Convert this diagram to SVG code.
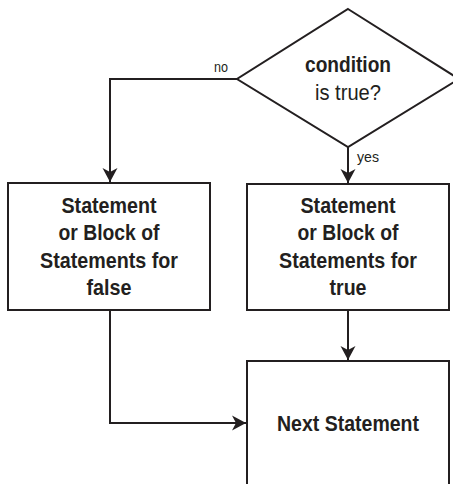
<svg xmlns="http://www.w3.org/2000/svg" width="453" height="484" viewBox="0 0 453 484">
<defs>
<marker id="arr" markerUnits="userSpaceOnUse" markerWidth="16" markerHeight="18" viewBox="-15 -8 16 16" refX="0" refY="0" orient="auto">
<path d="M0,0 L-14,-7.5 L-10,0 L-14,7.5 Z" fill="#231f20"/>
</marker>
<style>
.shape{fill:#fff;stroke:#231f20;stroke-width:2}
.line{fill:none;stroke:#231f20;stroke-width:2}
.b{font-family:"Liberation Sans",Arial,sans-serif;font-weight:bold;font-size:22px;fill:#231f20;text-anchor:middle}
.r{font-family:"Liberation Sans",Arial,sans-serif;font-size:22px;fill:#231f20;text-anchor:middle}
.s{font-family:"Liberation Sans",Arial,sans-serif;font-size:15px;fill:#231f20}
</style>
</defs>
<rect width="453" height="484" fill="#fff"/>
<g id="connectors">
<path class="line" d="M237,79 H110 V182" marker-end="url(#arr)"/>
<path class="line" d="M348,147 V183" marker-end="url(#arr)"/>
<path class="line" d="M348,310 V360" marker-end="url(#arr)"/>
<path class="line" d="M110,310 V423 H246" marker-end="url(#arr)"/>
<text class="s" x="214" y="72" textLength="14" lengthAdjust="spacingAndGlyphs">no</text>
<text class="s" x="357" y="162" textLength="22" lengthAdjust="spacingAndGlyphs">yes</text>
</g>
<g id="condition">
<polygon class="shape" points="348,9 459,79 348,147 237,79"/>
<text class="b" x="348" y="72" textLength="86" lengthAdjust="spacingAndGlyphs">condition</text>
<text class="r" x="348" y="100" textLength="66" lengthAdjust="spacingAndGlyphs">is true?</text>
</g>
<g id="false-block">
<rect class="shape" x="8" y="183" width="202" height="127"/>
<text class="b" x="109" y="213" textLength="95" lengthAdjust="spacingAndGlyphs">Statement</text>
<text class="b" x="109" y="240" textLength="101" lengthAdjust="spacingAndGlyphs">or Block of</text>
<text class="b" x="109" y="268" textLength="138" lengthAdjust="spacingAndGlyphs">Statements for</text>
<text class="b" x="109" y="295" textLength="45" lengthAdjust="spacingAndGlyphs">false</text>
</g>
<g id="true-block">
<rect class="shape" x="247" y="184" width="202" height="126"/>
<text class="b" x="348" y="213" textLength="95" lengthAdjust="spacingAndGlyphs">Statement</text>
<text class="b" x="348" y="240" textLength="101" lengthAdjust="spacingAndGlyphs">or Block of</text>
<text class="b" x="348" y="268" textLength="138" lengthAdjust="spacingAndGlyphs">Statements for</text>
<text class="b" x="348" y="295" textLength="37" lengthAdjust="spacingAndGlyphs">true</text>
</g>
<g id="next">
<rect class="shape" x="247" y="361" width="202" height="140"/>
<text class="b" x="348" y="431" textLength="142" lengthAdjust="spacingAndGlyphs">Next Statement</text>
</g>
</svg>
